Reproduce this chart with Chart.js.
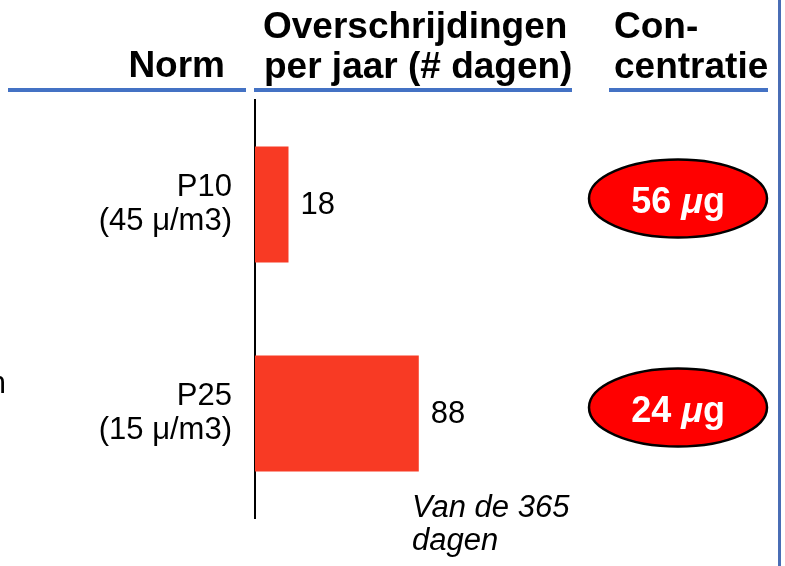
<!DOCTYPE html>
<html><head><meta charset="utf-8">
<script src="https://cdn.jsdelivr.net/npm/chart.js@4.4.0/dist/chart.umd.min.js"></script>
<style>html,body{margin:0;padding:0;background:#fff;overflow:hidden}canvas{display:block}</style>
</head><body>
<canvas id="c" width="785" height="566"></canvas>
<script>
// ---- data ----
const categories = [["P10", "(45 μ/m3)"], ["P25", "(15 μ/m3)"]];
const exceedanceDays = [18, 88];
const concentrationValues = [56, 24];
const concentrationUnit = "μg";
const headerNorm = ["Norm"];
const headerDays = ["Overschrijdingen", "per jaar (# dagen)"];
const headerConc = ["Con-", "centratie"];
const footnoteLines = ["Van de 365", "dagen"];
const clippedLeftText = "n";

const FONT = "'Liberation Sans', Arial, Helvetica, sans-serif";
const BLUE = '#4472C4';

const overlay = {
  id: 'overlay',
  afterDraw(chart) {
    const ctx = chart.ctx;
    const ys = chart.scales.y;
    ctx.save();
    // headers
    ctx.fillStyle = '#000';
    ctx.font = 'bold 37px ' + FONT;
    ctx.textBaseline = 'alphabetic';
    ctx.textAlign = 'right';
    ctx.fillText(headerNorm[0], 225, 77);
    ctx.textAlign = 'left';
    ctx.fillText(headerDays[0], 263, 38);
    ctx.fillText(headerDays[1], 264, 78);
    ctx.fillText(headerConc[0], 614, 38);
    ctx.fillText(headerConc[1], 614, 78);
    // underlines
    ctx.fillStyle = BLUE;
    ctx.fillRect(8, 88, 238, 4);
    ctx.fillRect(254, 88, 318, 4);
    ctx.fillRect(609, 88, 159, 4);
    // right vertical line
    ctx.fillStyle = '#4A6DB5';
    ctx.fillRect(778, 0, 3, 566);

    // value labels at bar ends
    const meta = chart.getDatasetMeta(0);
    ctx.fillStyle = '#000';
    ctx.font = '31px ' + FONT;
    ctx.textAlign = 'left';
    ctx.textBaseline = 'middle';
    meta.data.forEach((bar, i) => {
      ctx.fillText(String(exceedanceDays[i]), bar.x + 12, bar.y + 1);
    });

    // concentration ellipses
    concentrationValues.forEach((v, i) => {
      const cy = ys.getPixelForValue(i) - 6;
      const cx = 678;
      ctx.beginPath();
      ctx.ellipse(cx, cy, 89, 39, 0, 0, Math.PI * 2);
      ctx.fillStyle = '#FF0000';
      ctx.fill();
      ctx.lineWidth = 2.5;
      ctx.strokeStyle = '#000';
      ctx.stroke();
      const p1 = String(v) + ' ';
      const f1 = 'bold 36px ' + FONT;
      const f2 = 'italic bold 36px ' + FONT;
      ctx.font = f1; const w1 = ctx.measureText(p1).width;
      ctx.font = f2; const w2 = ctx.measureText(concentrationUnit[0]).width;
      ctx.font = f1; const w3 = ctx.measureText(concentrationUnit.slice(1)).width;
      let x = cx - (w1 + w2 + w3) / 2;
      const by = cy + 14;
      ctx.fillStyle = '#fff';
      ctx.textAlign = 'left';
      ctx.textBaseline = 'alphabetic';
      ctx.font = f1; ctx.fillText(p1, x, by); x += w1;
      ctx.font = f2; ctx.fillText(concentrationUnit[0], x, by); x += w2;
      ctx.font = f1; ctx.fillText(concentrationUnit.slice(1), x, by);
    });

    // footnote
    ctx.fillStyle = '#000';
    ctx.font = 'italic 31px ' + FONT;
    ctx.textAlign = 'left';
    ctx.textBaseline = 'alphabetic';
    ctx.fillText(footnoteLines[0], 412, 517);
    ctx.fillText(footnoteLines[1], 412, 550);

    // clipped text on left edge
    ctx.font = '31px ' + FONT;
    ctx.textAlign = 'right';
    ctx.fillText(clippedLeftText, 6, 393);
    ctx.restore();
  }
};

new Chart(document.getElementById('c'), {
  type: 'bar',
  data: {
    labels: categories,
    datasets: [{
      data: exceedanceDays,
      backgroundColor: '#F83A24',
      borderWidth: 0,
      categoryPercentage: 1,
      barPercentage: 0.555
    }]
  },
  options: {
    indexAxis: 'y',
    responsive: false,
    animation: false,
    devicePixelRatio: 1,
    layout: { padding: { left: 0, right: 195, top: 100, bottom: 48 } },
    plugins: { legend: { display: false }, tooltip: { enabled: false } },
    scales: {
      x: { display: false, min: 0, max: 180 },
      y: {
        afterFit(scale) {
          scale.width = 255;
          scale.paddingTop = 0;
          scale.paddingBottom = 0;
        },
        grid: { display: false, drawTicks: false },
        border: { display: true, color: '#000', width: 2 },
        ticks: {
          color: '#000',
          padding: 23,
          font: { family: FONT, size: 31, lineHeight: 1.1 }
        }
      }
    }
  },
  plugins: [overlay]
});
</script>
</body></html>
